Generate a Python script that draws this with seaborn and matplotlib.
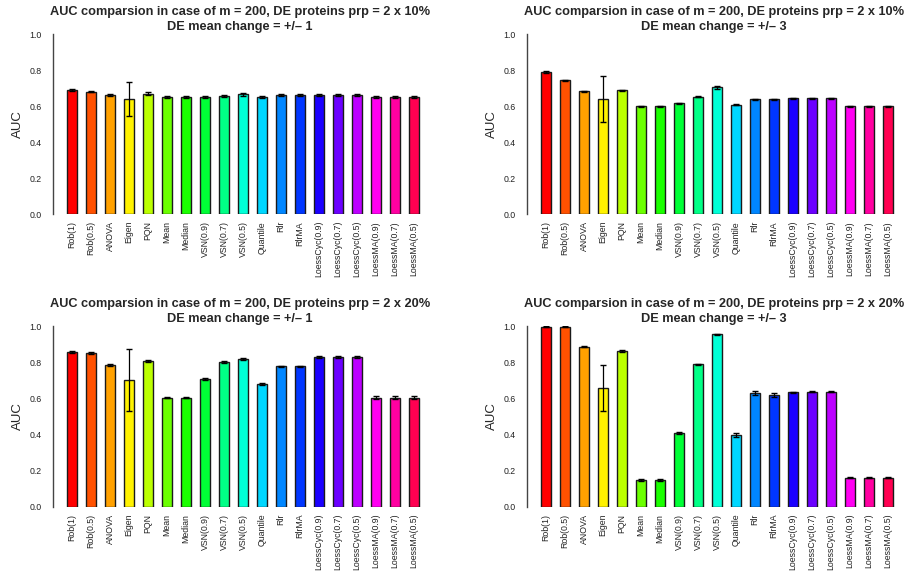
import numpy as np
import pandas as pd
import matplotlib
matplotlib.use("Agg")
import matplotlib.pyplot as plt
import seaborn as sns
import colorsys

methods = ["Rob(1)", "Rob(0.5)", "ANOVA", "Eigen", "PQN", "Mean", "Median",
           "VSN(0.9)", "VSN(0.7)", "VSN(0.5)", "Quantile", "Rlr", "RlrMA",
           "LoessCyc(0.9)", "LoessCyc(0.7)", "LoessCyc(0.5)",
           "LoessMA(0.9)", "LoessMA(0.7)", "LoessMA(0.5)"]

auc_10_1 = [0.689, 0.680, 0.661, 0.639, 0.669, 0.649, 0.649, 0.650, 0.655, 0.664,
            0.649, 0.660, 0.660, 0.663, 0.663, 0.663, 0.649, 0.649, 0.649]
err_10_1 = [0.006, 0.005, 0.006, 0.094, 0.007, 0.006, 0.006, 0.007, 0.007, 0.007,
            0.007, 0.007, 0.007, 0.006, 0.006, 0.006, 0.006, 0.006, 0.006]

auc_10_3 = [0.790, 0.743, 0.683, 0.637, 0.687, 0.598, 0.598, 0.615, 0.652, 0.703,
            0.607, 0.637, 0.637, 0.643, 0.643, 0.643, 0.599, 0.598, 0.598]
err_10_3 = [0.004, 0.003, 0.003, 0.128, 0.004, 0.002, 0.002, 0.003, 0.004, 0.010,
            0.002, 0.003, 0.003, 0.003, 0.003, 0.003, 0.003, 0.003, 0.003]

auc_20_1 = [0.857, 0.853, 0.785, 0.703, 0.808, 0.604, 0.604, 0.707, 0.803, 0.820,
            0.678, 0.778, 0.778, 0.830, 0.830, 0.830, 0.605, 0.605, 0.605]
err_20_1 = [0.004, 0.004, 0.004, 0.173, 0.004, 0.004, 0.004, 0.005, 0.005, 0.005,
            0.006, 0.004, 0.004, 0.004, 0.004, 0.004, 0.006, 0.006, 0.006]

auc_20_3 = [0.997, 0.997, 0.887, 0.657, 0.865, 0.148, 0.148, 0.409, 0.789, 0.957,
            0.396, 0.631, 0.620, 0.634, 0.637, 0.637, 0.161, 0.161, 0.161]
err_20_3 = [0.002, 0.002, 0.002, 0.126, 0.006, 0.003, 0.003, 0.005, 0.004, 0.003,
            0.010, 0.010, 0.012, 0.004, 0.003, 0.003, 0.004, 0.004, 0.004]

titles = [
    "AUC comparsion in case of m = 200, DE proteins prp = 2 x 10%\nDE mean change = +/\u2013 1",
    "AUC comparsion in case of m = 200, DE proteins prp = 2 x 10%\nDE mean change = +/\u2013 3",
    "AUC comparsion in case of m = 200, DE proteins prp = 2 x 20%\nDE mean change = +/\u2013 1",
    "AUC comparsion in case of m = 200, DE proteins prp = 2 x 20%\nDE mean change = +/\u2013 3",
]
yticks = [0.0, 0.2, 0.4, 0.6, 0.8, 1.0]

# R rainbow(19)
n = len(methods)
colors = [colorsys.hsv_to_rgb(i / n, 1, 1) for i in range(n)]

sns.set_style("white")
plt.rcParams["font.family"] = ["Liberation Sans", "DejaVu Sans"]

W, H = 905, 571
fig = plt.figure(figsize=(W / 100, H / 100), dpi=100)

panels = [(auc_10_1, err_10_1), (auc_10_3, err_10_3), (auc_20_1, err_20_1), (auc_20_3, err_20_3)]
lefts = [53, 527]
rows = [(34, 214), (326.3, 506.7)]
xl, xr = -1.0, 18.7
unit = 19.0
width_px = (xr - xl) * unit

for k, (vals, errs) in enumerate(panels):
    r, c = divmod(k, 2)
    top, bot = rows[r]
    ax = fig.add_axes([lefts[c] / W, (H - bot) / H, width_px / W, (bot - top) / H])
    df = pd.DataFrame({"method": methods, "auc": vals})
    sns.barplot(data=df, x="method", y="auc", hue="method", palette=colors,
                legend=False, width=0.54, edgecolor="#1a1a1a", linewidth=1.0,
                saturation=1, ax=ax, errorbar=None)
    ax.errorbar(np.arange(n), vals, yerr=errs, fmt="none", ecolor="black",
                elinewidth=0.9, capsize=2.3, capthick=1.0, zorder=5)
    ax.set_xlim(xl, xr)
    ax.set_ylim(0, 1.0)
    ax.set_yticks(yticks)
    ax.set_yticklabels([f"{t:.1f}" for t in yticks], fontsize=6.3, color="#222222")
    ax.set_xticks(np.arange(n))
    ax.set_xticklabels(methods, rotation=90, fontsize=6.3, color="#222222", va="top")
    ax.tick_params(axis="x", length=0, pad=5)
    ax.tick_params(axis="y", length=5, width=1.0, color="#444444", pad=3, direction="out")
    for s in ["top", "right", "bottom"]:
        ax.spines[s].set_visible(False)
    ax.spines["left"].set_color("#444444")
    ax.spines["left"].set_linewidth(1.0)
    ax.set_xlabel("")
    ax.set_ylabel("AUC", fontsize=9.5, labelpad=4)
    ax.set_title(titles[k], fontsize=9.2, fontweight="bold", pad=3, linespacing=1.35)

fig.savefig("out.png", dpi=100)
